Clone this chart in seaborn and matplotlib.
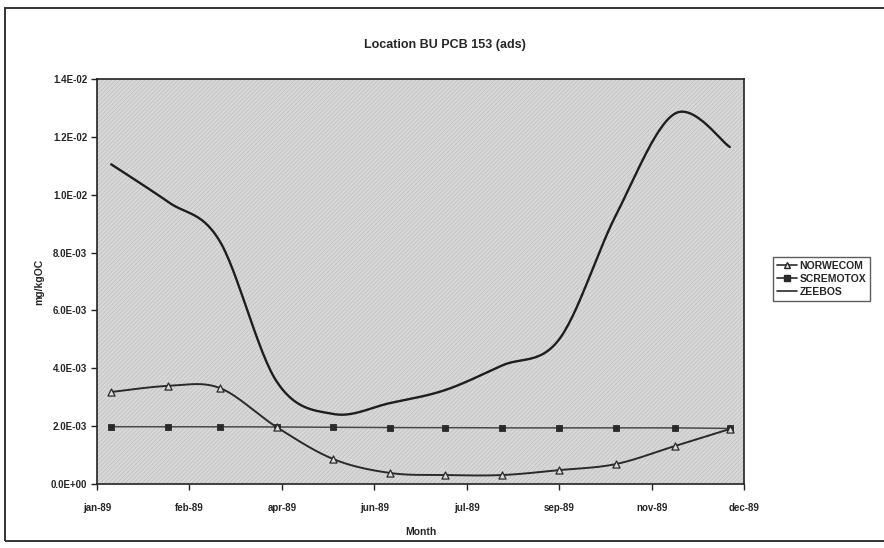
import numpy as np
import pandas as pd
import matplotlib
matplotlib.use("Agg")
import matplotlib.pyplot as plt
from matplotlib.patches import Rectangle
from matplotlib.lines import Line2D
import seaborn as sns

# ---------------- data ----------------
dates = ["1989-01-09", "1989-02-10", "1989-03-11", "1989-04-12", "1989-05-14", "1989-06-15",
         "1989-07-16", "1989-08-17", "1989-09-18", "1989-10-20", "1989-11-22", "1989-12-23"]
norwecom = [3.18e-3, 3.39e-3, 3.32e-3, 1.97e-3, 0.86e-3, 0.38e-3,
            0.31e-3, 0.31e-3, 0.48e-3, 0.69e-3, 1.31e-3, 1.90e-3]
scremotox = [1.98e-3, 1.98e-3, 1.98e-3, 1.97e-3, 1.96e-3, 1.95e-3,
             1.95e-3, 1.94e-3, 1.94e-3, 1.94e-3, 1.94e-3, 1.92e-3]
zeebos = [11.05e-3, 9.75e-3, 8.40e-3, 3.55e-3, 2.42e-3, 2.80e-3,
          3.25e-3, 4.10e-3, 5.00e-3, 9.30e-3, 12.80e-3, 11.65e-3]
tick_labels = ["jan-89", "feb-89", "apr-89", "jun-89", "jul-89", "sep-89", "nov-89", "dec-89"]
ytick_labels = ["0.0E+00", "2.0E-03", "4.0E-03", "6.0E-03", "8.0E-03", "1.0E-02", "1.2E-02", "1.4E-02"]
series_names = ["NORWECOM", "SCREMOTOX", "ZEEBOS"]
title = "Location BU PCB 153 (ads)"

# ---------------- helpers ----------------
start = pd.Timestamp("1989-01-01")
xdays = np.array([(pd.Timestamp(d) - start).days for d in dates], dtype=float)


def smooth(x, y, n=30):
    """Bezier smoothing through points (Excel-like smoothed line)."""
    P = np.column_stack([x, np.asarray(y, dtype=float)])
    P = np.vstack([P[0], P, P[-1]])
    out = []
    t = np.linspace(0, 1, n)[:, None]
    for i in range(1, len(P) - 2):
        p0, p1, p2, p3 = P[i - 1], P[i], P[i + 1], P[i + 2]
        b1 = p1 + (p2 - p0) / 6.0
        b2 = p2 - (p3 - p1) / 6.0
        seg = ((1 - t) ** 3) * p1 + 3 * ((1 - t) ** 2) * t * b1 + 3 * (1 - t) * t ** 2 * b2 + t ** 3 * p2
        out.append(seg if i == 1 else seg[1:])
    out = np.vstack(out)
    return out[:, 0], out[:, 1]


# ---------------- figure ----------------
sns.set_theme(style="white")
plt.rcParams["font.family"] = ["Liberation Sans", "DejaVu Sans"]
plt.rcParams["hatch.linewidth"] = 0.5

W, H = 884, 548
fig = plt.figure(figsize=(W / 100, H / 100), dpi=100)
fig.patch.set_facecolor("white")

# outer chart frame
fig.patches.append(Rectangle((5 / W, 1 - 541 / H), 0.999, (541 - 8) / H, transform=fig.transFigure,
                             fill=False, edgecolor="#333333", linewidth=1.4))

ax = fig.add_axes([97 / W, 1 - 484 / H, (744 - 97) / W, (484 - 79) / H])
ax.set_facecolor("#d9d9d9")
ax.add_patch(Rectangle((0, 0), 1, 1, transform=ax.transAxes, facecolor="none",
                       edgecolor="#bcbcbc", hatch="////////", linewidth=0, zorder=0))

colors = {"NORWECOM": "#2a2a2a", "SCREMOTOX": "#4a4a4a", "ZEEBOS": "#1e1e1e"}
widths = {"NORWECOM": 1.4, "SCREMOTOX": 1.1, "ZEEBOS": 1.7}

for name, vals in zip(series_names, [norwecom, scremotox, zeebos]):
    sx, sy = smooth(xdays, vals)
    dfs = pd.DataFrame({"x": sx, "y": sy})
    sns.lineplot(data=dfs, x="x", y="y", ax=ax, color=colors[name], linewidth=widths[name],
                 sort=False, estimator=None, zorder=3)

dfp = pd.DataFrame({"x": xdays, "NORWECOM": norwecom, "SCREMOTOX": scremotox})
sns.scatterplot(data=dfp, x="x", y="SCREMOTOX", ax=ax, marker="s", s=22, color="#2a2a2a",
                edgecolor="#2a2a2a", linewidth=0.6, zorder=4)
sns.scatterplot(data=dfp, x="x", y="NORWECOM", ax=ax, marker="^", s=26, facecolor="#dcdcdc",
                edgecolor="#2a2a2a", linewidth=0.9, zorder=5)

ax.set_xlim(0, 364)
ax.set_ylim(0, 0.014)
ax.set_xticks(np.arange(0, 365, 52))
ax.set_xticklabels(tick_labels, fontsize=7, fontweight="bold")
ax.set_yticks(np.arange(0, 0.01401, 0.002))
ax.set_yticklabels(ytick_labels, fontsize=7, fontweight="bold")
ax.tick_params(axis="both", direction="out", length=4, width=1, color="#222222", pad=3,
               bottom=True, left=True)
ax.tick_params(axis="x", pad=10)
for s in ax.spines.values():
    s.set_color("#222222")
    s.set_linewidth(1.2)

ax.set_xlabel("Month", fontsize=7.5, fontweight="bold", labelpad=10)
ax.set_ylabel("mg/kgOC", fontsize=7.5, fontweight="bold", labelpad=5)
ax.grid(False)

fig.text(0.503, 1 - 45 / H, title, ha="center", va="center", fontsize=9, fontweight="bold")

# legend
handles = [
    Line2D([], [], color="#2a2a2a", lw=1.2, marker="^", markersize=4.5, markerfacecolor="#dcdcdc",
           markeredgecolor="#2a2a2a"),
    Line2D([], [], color="#2a2a2a", lw=1.2, marker="s", markersize=4, markerfacecolor="#2a2a2a"),
    Line2D([], [], color="#2a2a2a", lw=1.2),
]
leg = fig.legend(handles, series_names, loc="upper left", bbox_to_anchor=(773 / W, 1 - 257 / H),
                 bbox_transform=fig.transFigure, frameon=True, fancybox=False,
                 prop={"weight": "bold", "size": 7.5}, handlelength=2.0, handletextpad=0.2,
                 borderpad=0.35, labelspacing=0.3, borderaxespad=0)
leg.get_frame().set_edgecolor("#333333")
leg.get_frame().set_linewidth(1.0)

fig.savefig("out.png", dpi=100)
